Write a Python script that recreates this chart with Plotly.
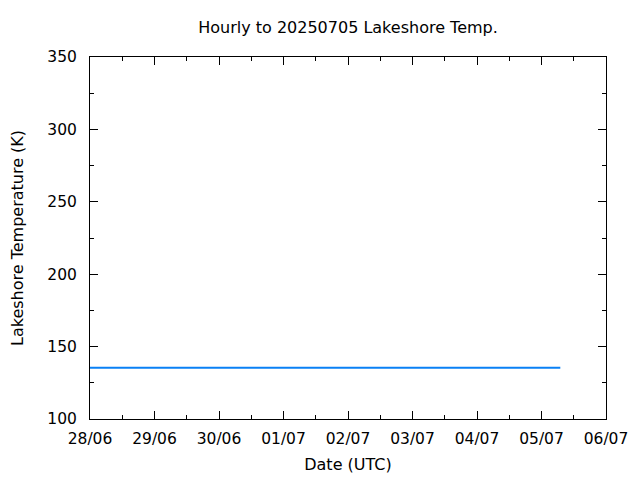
import plotly.graph_objects as go

dates = ["2025-06-28 00:00", "2025-07-05 07:00"]
temps = [135.4, 135.4]
x_range = ["2025-06-28", "2025-07-06"]
y_range = [100, 350]

fig = go.Figure()
fig.add_trace(go.Scatter(x=dates, y=temps, mode="lines",
                         line=dict(color="#0a80f5", width=2), showlegend=False))

font = dict(family="DejaVu Sans", size=15.5, color="black")
fig.update_layout(
    width=640, height=480,
    margin=dict(l=82, r=42, t=49, b=69),
    paper_bgcolor="white", plot_bgcolor="white",
    font=font,
    title=dict(text="Hourly to 20250705 Lakeshore Temp.", x=0.5, xanchor="center",
               xref="paper",
               y=1 - 19/480, yanchor="middle", font=dict(family="DejaVu Sans", size=16, color="black")),
)
fig.update_xaxes(
    type="date", range=x_range, dtick=86400000, tickformat="%d/%m",
    ticks="inside", ticklen=8, tickcolor="black", showline=True, linecolor="black",
    linewidth=1, mirror="allticks", showgrid=False, zeroline=False,
    ticklabelstandoff=5,
    minor=dict(ticks="inside", ticklen=4, dtick=43200000, tickcolor="black", showgrid=False),
    title=dict(text="Date (UTC)", standoff=12, font=dict(size=16, color="black")),
    automargin=False,
)
fig.update_yaxes(
    range=y_range, dtick=50, ticks="inside", ticklen=8, tickcolor="black",
    showline=True, linecolor="black", linewidth=1, mirror="allticks",
    showgrid=False, zeroline=False, ticklabelstandoff=9,
    minor=dict(ticks="inside", ticklen=4, dtick=25, tickcolor="black", showgrid=False),
    title=dict(text="Lakeshore Temperature (K)", standoff=26, font=dict(size=16, color="black")),
    automargin=False,
)
fig.write_html("out.html")
